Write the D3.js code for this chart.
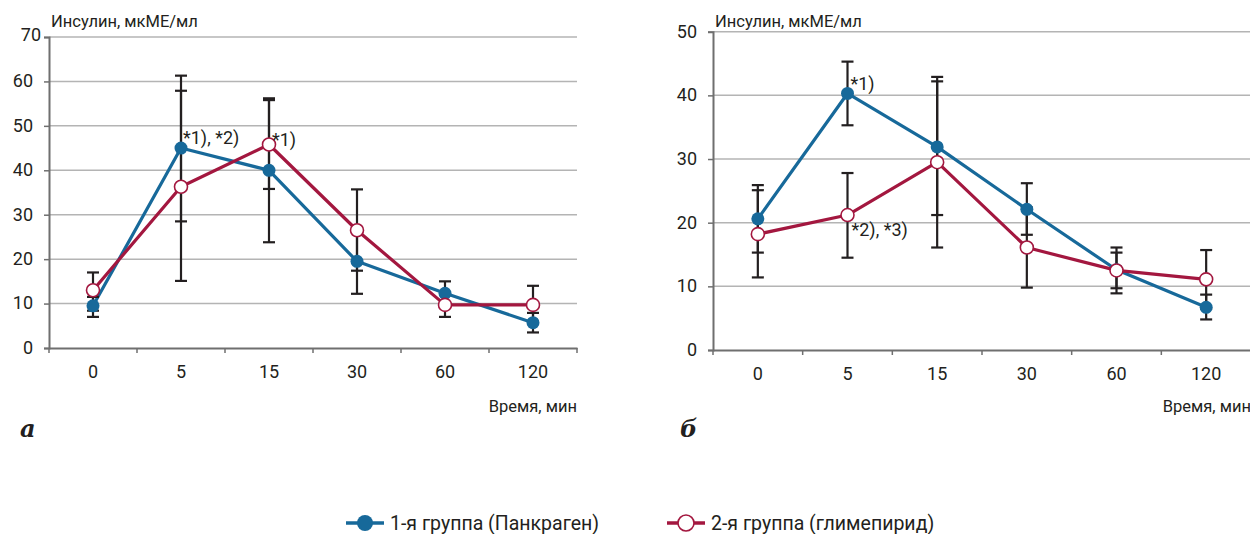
<!DOCTYPE html>
<html><head><meta charset="utf-8">
<script src="https://cdn.jsdelivr.net/npm/d3@7"></script>
<style>
body{margin:0;background:#fff;}
svg{display:block;font-family:Roboto,"Noto Sans",sans-serif;}
</style></head>
<body>
<svg id="c" width="1250" height="534"></svg>
<script>
// ---- data ----
const categories = ["0","5","15","30","60","120"];
const seriesNames = ["1-я группа (Панкраген)","2-я группа (глимепирид)"];
const yTitle = "Инсулин, мкМЕ/мл";
const xTitle = "Время, мин";

// panel a
const aTicks = [0,10,20,30,40,50,60,70];
const aGroup1 = [9.5,45,40,19.5,12.3,5.7];
const aGroup1Err = [[7,11.5],[28.5,61.3],[23.8,56.2],[12.2,26.8],[9.6,15],[3.5,7.9]];
const aGroup2 = [13,36.3,45.8,26.5,9.7,9.7];
const aGroup2Err = [[8.4,17],[15.1,57.9],[35.8,55.8],[17.4,35.7],[7,12.4],[5.4,14]];
const aNotes = [{i:1, s:0, text:"*1), *2)"},{i:2, s:1, text:"*1)"}];

// panel b
const bTicks = [0,10,20,30,40,50];
const bGroup1 = [20.6,40.3,31.9,22.1,12.6,6.7];
const bGroup1Err = [[15.3,25.9],[35.3,45.3],[21.2,42.2],[18.1,26.2],[8.9,16.1],[4.8,8.7]];
const bGroup2 = [18.2,21.2,29.5,16.1,12.5,11.1];
const bGroup2Err = [[11.4,25.1],[14.5,27.8],[16.1,42.9],[9.8,22.4],[9.7,15.3],[6.5,15.7]];
const bNotes = [{i:1, s:0, text:"*1)"},{i:1, s:1, text:"*2), *3)"}];

// ---- style ----
const BLUE = "#17699a", RED = "#a3173f", ERR = "#231f20", GRID = "#b4b4b4", AXIS = "#6f6f6f";
// note label offsets (px) relative to marker
const aNoteOffsets = [[2,-4.5],[3,1.5]];
const bNoteOffsets = [[3,-3.5],[4,20.5]];
const svg = d3.select("#c");

function panel(cfg){
  const g = svg.append("g");
  const x = d3.scaleBand().domain(categories).range([cfg.x0, cfg.x1]).padding(0);
  const y = d3.scaleLinear().domain([0, d3.max(cfg.ticks)]).range([cfg.yb, cfg.yt]);

  g.selectAll("line.grid").data(cfg.ticks.filter(t=>t>0)).join("line")
    .attr("x1", cfg.x0).attr("x2", cfg.x1)
    .attr("y1", d=>y(d)).attr("y2", d=>y(d))
    .attr("stroke", GRID).attr("stroke-width", 1.5);

  const ya = d3.axisLeft(y).tickValues(cfg.ticks).tickSize(5).tickPadding(11).tickFormat(d3.format("d"));
  const yg = g.append("g").attr("transform", `translate(${cfg.x0},0)`).call(ya);
  yg.select(".domain").attr("stroke", AXIS).attr("stroke-width", 2);
  yg.selectAll(".tick line").attr("stroke", AXIS).attr("stroke-width", 1.5);
  yg.selectAll(".tick text").attr("font-size", 18).attr("fill", "#231f20")
    .attr("font-family", "Roboto, sans-serif").attr("dy", "0.3em");
  if (cfg.topShift) yg.selectAll(".tick text").filter(d=>d===d3.max(cfg.ticks))
    .attr("x", -16 + cfg.topShift).attr("dy","0.2em");

  const xa = d3.axisBottom(x).tickSize(0).tickPadding(17);
  const xg = g.append("g").attr("transform", `translate(0,${cfg.yb})`).call(xa);
  xg.select(".domain").attr("stroke", AXIS).attr("stroke-width", 2);
  xg.selectAll(".tick text").attr("font-size", 18).attr("fill", "#231f20").attr("font-family", "Roboto, sans-serif");
  const bounds = categories.map(c=>x(c)).concat([x(categories[categories.length-1]) + x.bandwidth()]);
  g.selectAll("line.xt").data(bounds).join("line")
    .attr("x1", d=>d).attr("x2", d=>d).attr("y1", cfg.yb).attr("y2", cfg.yb+5)
    .attr("stroke", AXIS).attr("stroke-width", 1.5);

  g.append("text").attr("x", cfg.x0 + 2).attr("y", cfg.titleY).text(yTitle)
    .attr("font-size", 16.5).attr("fill", "#231f20");
  g.append("text").attr("x", cfg.x1).attr("y", 412).attr("text-anchor", "end").text(xTitle)
    .attr("font-size", 16.5).attr("fill", "#231f20");
  g.append("text").attr("x", cfg.letterX).attr("y", 437).text(cfg.letter)
    .attr("font-family", "'DejaVu Serif', 'Liberation Serif', serif").attr("font-style", "italic")
    .attr("font-weight", "bold").attr("font-size", 24).attr("fill", "#231f20");

  const cx = c => x(c) + x.bandwidth()/2;
  const series = [{v:cfg.g1, e:cfg.g1e, color:BLUE, open:false},{v:cfg.g2, e:cfg.g2e, color:RED, open:true}];
  const line = d3.line().x((d,i)=>cx(categories[i])).y(d=>y(d));

  series.forEach(s=>{
    g.append("path").datum(s.v).attr("d", line).attr("fill","none")
      .attr("stroke", s.color).attr("stroke-width", 3.2).attr("stroke-linejoin","round");
  });
  series.forEach(s=>{
    const eg = g.append("g");
    s.e.forEach((e,i)=>{
      const xc = cx(categories[i]);
      eg.append("line").attr("x1",xc).attr("x2",xc).attr("y1",y(e[0])).attr("y2",y(e[1]))
        .attr("stroke",ERR).attr("stroke-width",2.2);
      e.forEach(val=>{
        eg.append("line").attr("x1",xc-6).attr("x2",xc+6).attr("y1",y(val)).attr("y2",y(val))
          .attr("stroke",ERR).attr("stroke-width",2.2);
      });
    });
  });
  series.forEach(s=>{
    g.selectAll(null).data(s.v).join("circle")
      .attr("cx",(d,i)=>cx(categories[i])).attr("cy",d=>y(d)).attr("r",6.5)
      .attr("fill", s.open ? "#fff" : s.color)
      .attr("stroke", s.color).attr("stroke-width", s.open ? 1.6 : 0);
  });
  cfg.notes.forEach((n,k)=>{
    const s = series[n.s];
    const off = cfg.noteOffsets[k];
    g.append("text").attr("x", cx(categories[n.i]) + off[0]).attr("y", y(s.v[n.i]) + off[1])
      .text(n.text).attr("font-size", 18).attr("fill", "#231f20");
  });
}

panel({x0:49, x1:577, yt:37, yb:348, ticks:aTicks, g1:aGroup1, g1e:aGroup1Err, g2:aGroup2, g2e:aGroup2Err,
  notes:aNotes, noteOffsets:aNoteOffsets, letter:"а", letterX:20, titleY:27, topShift:8});
panel({x0:713, x1:1251, yt:31.7, yb:350, ticks:bTicks, g1:bGroup1, g1e:bGroup1Err, g2:bGroup2, g2e:bGroup2Err,
  notes:bNotes, noteOffsets:bNoteOffsets, letter:"б", letterX:680, titleY:27});

const legend = [{name:seriesNames[0], color:BLUE, open:false, lx:346},{name:seriesNames[1], color:RED, open:true, lx:667}];
const lg = svg.append("g");
legend.forEach(l=>{
  lg.append("line").attr("x1",l.lx).attr("x2",l.lx+38).attr("y1",523).attr("y2",523)
    .attr("stroke",l.color).attr("stroke-width",3.5);
  lg.append("circle").attr("cx",l.lx+19).attr("cy",523).attr("r",8)
    .attr("fill", l.open ? "#fff" : l.color).attr("stroke", l.color).attr("stroke-width", l.open?1.6:0);
  lg.append("text").attr("x", l.lx+44).attr("y", 530).text(l.name)
    .attr("font-size", 19.5).attr("fill", "#231f20");
});
</script>
</body></html>
